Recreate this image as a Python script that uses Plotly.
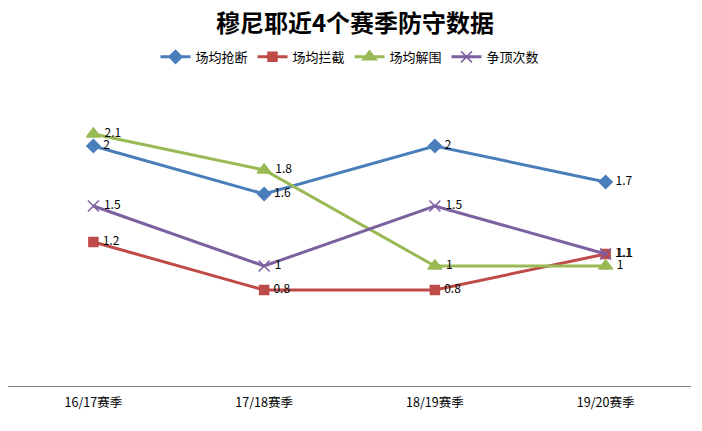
import plotly.graph_objects as go

# 穆尼耶近4个赛季防守数据
seasons = ['16/17赛季', '17/18赛季', '18/19赛季', '19/20赛季']
steals = [2, 1.6, 2, 1.7]          # 场均抢断
intercepts = [1.2, 0.8, 0.8, 1.1]  # 场均拦截
clearances = [2.1, 1.8, 1, 1]      # 场均解围
headers = [1.5, 1, 1.5, 1.1]       # 争顶次数

series = [
    ('场均抢断', steals, '#4A7EBB', 'diamond', 10),
    ('场均拦截', intercepts, '#BE4B48', 'square', 9),
    ('场均解围', clearances, '#98B954', 'triangle-up', 12),
    ('争顶次数', headers, '#7D60A0', 'x-thin-open', 11),
]

fig = go.Figure()
for name, vals, color, symbol, size in series:
    fig.add_trace(go.Scatter(
        x=seasons, y=vals, name=name,
        mode='lines+markers+text',
        text=[' ' + str(v) for v in vals],
        textposition='middle right',
        textfont=dict(size=12, color='#000000'),
        line=dict(color=color, width=3),
        marker=dict(symbol=symbol, size=size, color=color,
                    line=dict(color=color, width=1.5)),
        cliponaxis=False,
    ))

# page has an 8px body margin, so the figure is a bit smaller than the window
fig.update_layout(
    width=694, height=423,
    margin=dict(l=0, r=11, t=78, b=45),
    paper_bgcolor='white', plot_bgcolor='white',
    font=dict(family='"Noto Sans CJK SC", sans-serif', color='#000000'),
    title=dict(text='<b>穆尼耶近4个赛季防守数据</b>', x=0.5, xanchor='center',
               y=0.962, yanchor='middle', font=dict(size=24)),
    legend=dict(orientation='h', x=0.5, xanchor='center', y=1.097, yanchor='middle',
                font=dict(size=13), itemwidth=30, traceorder='normal',
                entrywidth=52, entrywidthmode='pixels'),
    showlegend=True,
)
fig.update_xaxes(showgrid=False, showline=True, linecolor='#878787', linewidth=1,
                 ticks='', tickfont=dict(size=12.5), range=[-0.5, 3.5],
                 ticklabelstandoff=5, fixedrange=True)
fig.update_yaxes(visible=False, range=[0, 2.5], showgrid=False, zeroline=False)

fig.write_html("out.html")
